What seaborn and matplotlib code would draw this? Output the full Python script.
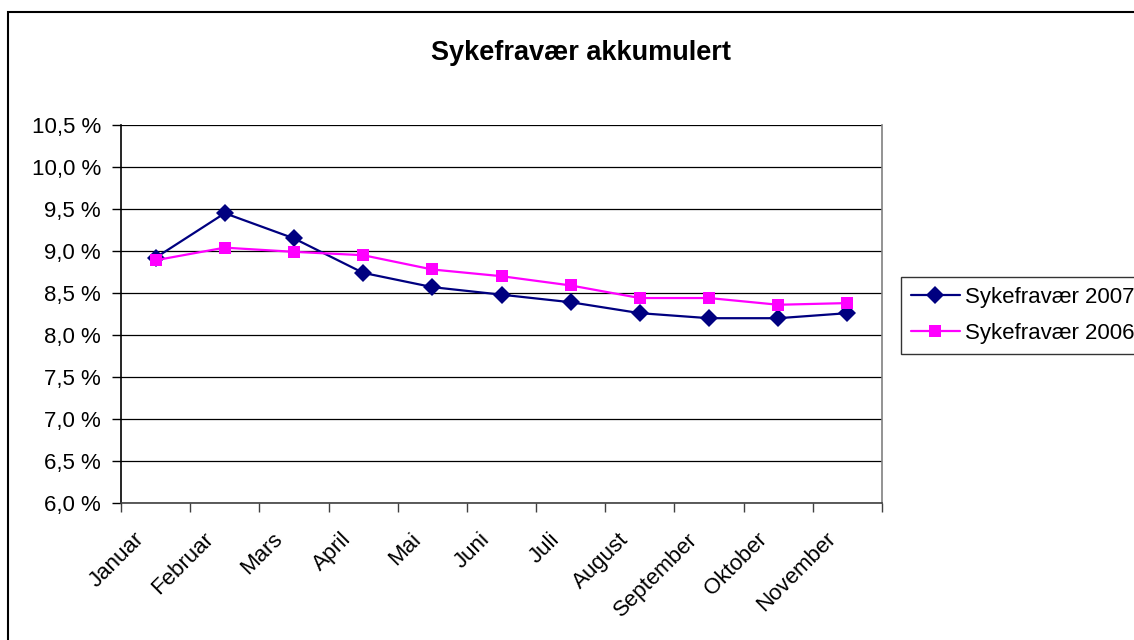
import matplotlib
matplotlib.use("Agg")
from matplotlib import pyplot as plt
from matplotlib.patches import Rectangle
from matplotlib.ticker import FuncFormatter, MultipleLocator
from matplotlib.transforms import ScaledTranslation
import seaborn as sns
import pandas as pd
import numpy as np

months = ["Januar", "Februar", "Mars", "April", "Mai", "Juni", "Juli",
          "August", "September", "Oktober", "November"]
sf_2007 = [8.92, 9.45, 9.15, 8.74, 8.57, 8.48, 8.39, 8.26, 8.20, 8.20, 8.26]
sf_2006 = [8.89, 9.04, 8.99, 8.95, 8.78, 8.70, 8.59, 8.44, 8.44, 8.36, 8.38]
series_names = ["Sykefravær 2007", "Sykefravær 2006"]

df = pd.DataFrame({
    "month": months * 2,
    "value": sf_2007 + sf_2006,
    "series": [series_names[0]] * len(months) + [series_names[1]] * len(months),
})

sns.set_style("white")
plt.rcParams["font.family"] = ["Liberation Sans", "DejaVu Sans"]
plt.rcParams["text.color"] = "black"
plt.rcParams["xtick.color"] = "black"
plt.rcParams["ytick.color"] = "black"

fig = plt.figure(figsize=(11.34, 6.4), dpi=100)
ax = fig.add_axes([121 / 1134, 137 / 640, 761 / 1134, 378 / 640])

sns.lineplot(data=df, x="month", y="value", hue="series", style="series",
             hue_order=series_names, style_order=series_names,
             palette={series_names[0]: "#000080", series_names[1]: "#FF00FF"},
             markers={series_names[0]: "D", series_names[1]: "s"},
             dashes=False, markersize=9, markeredgewidth=0, linewidth=1.6,
             sort=False, ax=ax)

ax.set_xlim(-0.5, len(months) - 0.5)
ax.set_ylim(6.0, 10.5)
ax.yaxis.set_major_locator(MultipleLocator(0.5))
ax.yaxis.set_major_formatter(FuncFormatter(lambda v, p: f"{v:.1f} %".replace(".", ",")))
ax.grid(axis="y", color="black", linewidth=0.9)
ax.set_axisbelow(True)

# month labels sit under the category centres, ticks go between categories
ax.set_xticks(range(len(months)))
ax.set_xticklabels(months, rotation=45, ha="right", rotation_mode="anchor")
ax.set_xticks(np.arange(-0.5, len(months), 1.0), minor=True)
ax.tick_params(axis="x", which="major", length=0, pad=18.5, labelsize=16)
ax.tick_params(axis="x", which="minor", length=6.5, width=1, color="#404040", direction="out", bottom=True)
ax.tick_params(axis="y", length=6.5, width=1, direction="out", left=True, labelsize=16, pad=8)
shift = ScaledTranslation(-0.22, 0, fig.dpi_scale_trans)
for lab in ax.get_xticklabels():
    lab.set_transform(lab.get_transform() + shift)
ax.set_xlabel("")
ax.set_ylabel("")

ax.spines["top"].set_visible(False)
ax.spines["left"].set_color("black")
ax.spines["bottom"].set_color("#404040")
ax.spines["right"].set_color("#808080")
for s in ["left", "bottom", "right"]:
    ax.spines[s].set_linewidth(1.2)

fig.text(581 / 1134, 1 - 53 / 640, "Sykefravær akkumulert", ha="center", va="center",
         fontsize=19.5, fontweight="bold")

ax.get_legend().remove()
handles, labels = ax.get_legend_handles_labels()
leg = fig.legend(handles, labels, loc="upper left",
                 bbox_to_anchor=(901 / 1134, 1 - 277 / 640),
                 frameon=True, fancybox=False, edgecolor="black",
                 fontsize=16, handlelength=2.2, borderpad=0.45,
                 labelspacing=0.68, handletextpad=0.25, borderaxespad=0)
leg.get_frame().set_linewidth(1.0)

fig.add_artist(Rectangle((8 / 1134, -0.1), 2, 1 - 12 / 640 + 0.1,
                         transform=fig.transFigure, fill=False,
                         edgecolor="black", linewidth=1.5))

fig.savefig("out.png", dpi=100, facecolor="white")
